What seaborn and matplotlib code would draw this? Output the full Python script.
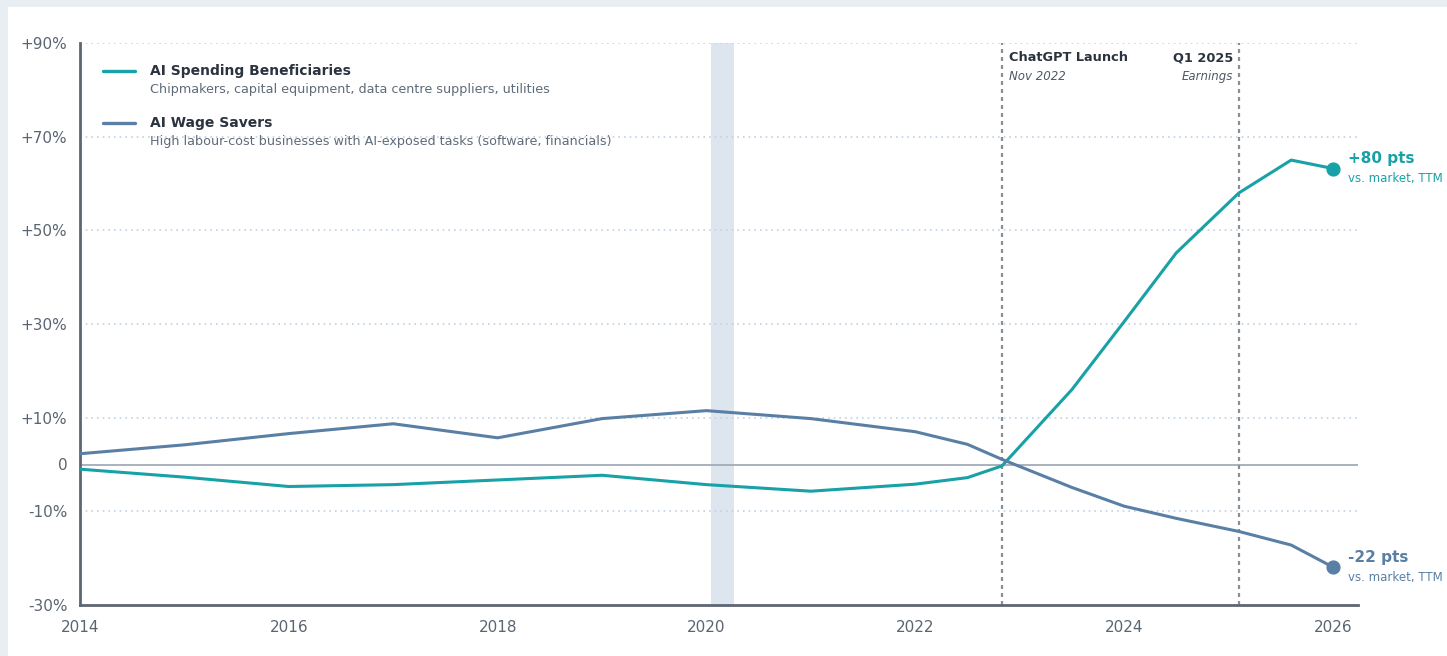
import numpy as np
import pandas as pd
import matplotlib
matplotlib.use("Agg")
import matplotlib.pyplot as plt
import seaborn as sns
from matplotlib.patches import Rectangle

# values (excess return vs. market, %)
years = [2014, 2015, 2016, 2017, 2018, 2019, 2020, 2021, 2022,
         2022.5, 2022.83, 2023.5, 2024, 2024.5, 2025.1, 2025.6, 2026]
spending = [-1.0, -2.7, -4.7, -4.3, -3.3, -2.3, -4.3, -5.7, -4.2,
            -2.8, -0.3, 16.0, 30.5, 45.2, 58.0, 65.0, 63.2]
wage = [2.3, 4.2, 6.6, 8.7, 5.7, 9.8, 11.5, 9.8, 7.0,
        4.3, 1.1, -4.9, -8.9, -11.5, -14.3, -17.2, -21.9]

series_names = ["AI Spending Beneficiaries", "AI Wage Savers"]
series_desc = ["Chipmakers, capital equipment, data centre suppliers, utilities",
               "High labour-cost businesses with AI-exposed tasks (software, financials)"]
end_labels = ["+80 pts", "-22 pts"]
y_ticks = [90, 70, 50, 30, 10, 0, -10, -30]
y_tick_labels = ["+90%", "+70%", "+50%", "+30%", "+10%", "0", "-10%", "-30%"]
x_ticks = [2014, 2016, 2018, 2020, 2022, 2024, 2026]
events = [(2022.83, "ChatGPT Launch", "Nov 2022", "left"),
          (2025.1, "Q1 2025", "Earnings", "right")]

teal = "#18a1a7"
blue = "#5a7fa4"
palette = {series_names[0]: teal, series_names[1]: blue}

df = pd.DataFrame({
    "year": years * 2,
    "value": spending + wage,
    "series": [series_names[0]] * len(years) + [series_names[1]] * len(years),
})

sns.set_style("white")
plt.rcParams["font.family"] = ["DejaVu Sans"]

fig = plt.figure(figsize=(14.47, 6.56), dpi=100)
fig.patch.set_facecolor("#e9eef3")
panel = Rectangle((8 / 1447, 0), 1, 1 - 7 / 656, transform=fig.transFigure,
                  facecolor="white", edgecolor="none", zorder=-5)
fig.add_artist(panel)
ax = fig.add_axes([80 / 1447, 1 - 605 / 656, (1358 - 80) / 1447, (605 - 43) / 656])
ax.set_zorder(1)
ax.set_facecolor("white")

# covid shading
ax.axvspan(2020.04, 2020.26, color="#dde6ee", lw=0, zorder=0)

# grid
for t in y_ticks:
    if t not in (0, -30):
        ax.axhline(t, color="#bed3e6", lw=1.2, ls=(0, (1, 2.4)), zorder=1)
ax.axhline(0, color="#a3adb8", lw=1.3, zorder=1)

for x, title, sub, ha in events:
    ax.axvline(x, color="#8a9098", lw=1.6, ls=(0, (1.8, 1.8)), zorder=2)
    off = 5 if ha == "left" else -4
    ax.annotate(title, (x, 90), xytext=(off, -13), textcoords="offset points",
                ha=ha, va="baseline", fontsize=9.3, fontweight="bold", color="#2b3340")
    ax.annotate(sub, (x, 90), xytext=(off, -26.5), textcoords="offset points",
                ha=ha, va="baseline", fontsize=8.5, style="italic", color="#4e5866")

sns.lineplot(data=df, x="year", y="value", hue="series", palette=palette,
             lw=2.2, ax=ax, legend=False, zorder=3)

# end markers and labels
for vals, name, lab in [(spending, series_names[0], end_labels[0]),
                        (wage, series_names[1], end_labels[1])]:
    c = palette[name]
    ax.scatter([years[-1]], [vals[-1]], s=85, color=c, zorder=4)
    ax.annotate(lab, (years[-1], vals[-1]), xytext=(11, 4), textcoords="offset points",
                fontsize=11, fontweight="bold", color=c, va="baseline",
                annotation_clip=False)
    ax.annotate("vs. market, TTM", (years[-1], vals[-1]), xytext=(11, -10),
                textcoords="offset points", fontsize=8.5, color=c, va="baseline",
                annotation_clip=False)

# custom legend
for i, (name, desc) in enumerate(zip(series_names, series_desc)):
    y0 = 0.951 - i * 0.0925
    ax.plot([0.018, 0.043], [y0, y0], transform=ax.transAxes, color=palette[name], lw=2.4)
    ax.text(0.055, y0, name, transform=ax.transAxes, fontsize=10, fontweight="bold",
            color="#2b3340", va="center")
    ax.text(0.055, y0 - 0.034, desc, transform=ax.transAxes, fontsize=9.2,
            color="#5f6b78", va="center")

ax.set_xlim(2014, 2026.24)
ax.set_ylim(-30, 90)
ax.set_yticks(y_ticks)
ax.set_yticklabels(y_tick_labels)
ax.set_xticks(x_ticks)
ax.set_xticklabels([str(t) for t in x_ticks])
ax.tick_params(axis="both", length=0, labelsize=11, labelcolor="#5a6572")
ax.tick_params(axis="y", pad=9)
ax.tick_params(axis="x", pad=11)
ax.set_xlabel("")
ax.set_ylabel("")
for s in ["top", "right"]:
    ax.spines[s].set_visible(False)
for s in ["left", "bottom"]:
    ax.spines[s].set_color("#5e6672")
    ax.spines[s].set_linewidth(2)

fig.savefig("out.png", dpi=100, facecolor=fig.get_facecolor())
